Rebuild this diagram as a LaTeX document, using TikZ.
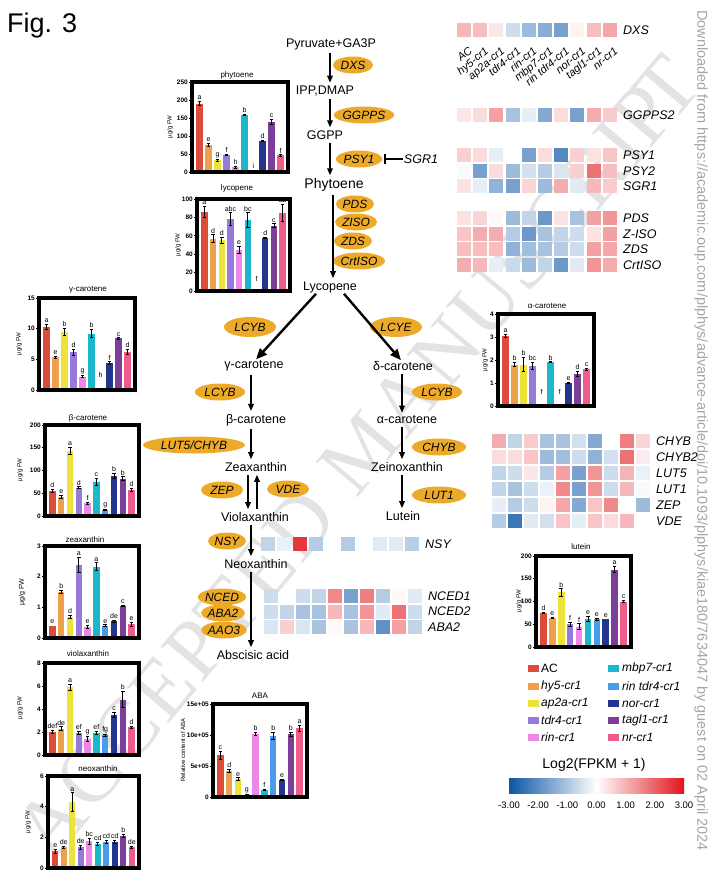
\documentclass[tikz,border=0pt]{standalone}
\usepackage{fontspec}
\setmainfont{Liberation Sans}
\newfontfamily\serifwm{Liberation Serif}
\usetikzlibrary{shapes.geometric,arrows.meta}
\definecolor{enzc}{RGB}{236,170,40}
\definecolor{hb}{RGB}{10,85,165}
\definecolor{hr}{RGB}{225,20,25}
\definecolor{bc1}{RGB}{221,76,58}
\definecolor{bc2}{RGB}{239,160,75}
\definecolor{bc3}{RGB}{236,226,58}
\definecolor{bc4}{RGB}{152,120,216}
\definecolor{bc5}{RGB}{238,136,230}
\definecolor{bc6}{RGB}{26,184,202}
\definecolor{bc7}{RGB}{74,155,234}
\definecolor{bc8}{RGB}{35,54,143}
\definecolor{bc9}{RGB}{123,63,152}
\definecolor{bc10}{RGB}{238,92,138}

% #1 xL #2 xR #3 yTop #4 yBottom #5 ymax #6 list value/error/letter
\newcommand{\barchart}[6]{%
  \pgfmathsetmacro{\bslot}{(#2-#1-6)/10}%
  \foreach \bv/\be/\bl [count=\i] in {#6}{%
    \pgfmathsetmacro{\cx}{#1+3+(\i-0.5)*\bslot}%
    \pgfmathsetmacro{\yt}{#4-(\bv)/(#5)*(#4-#3)}%
    \pgfmathsetmacro{\eh}{max(\be,0)/(#5)*(#4-#3)}%
    \pgfmathsetmacro{\hw}{0.37*\bslot}%
    \ifdim \be pt<0pt
      \node[lett] at (\cx,\yt) {\bl};
    \else
      \fill[bc\i] (\cx-\hw,#4) rectangle (\cx+\hw,\yt);
      \ifdim \be pt>0pt
        \draw[errb] (\cx,\yt-\eh) -- (\cx,\yt+\eh)
          (\cx-0.55*\hw,\yt-\eh) -- (\cx+0.55*\hw,\yt-\eh)
          (\cx-0.55*\hw,\yt+\eh) -- (\cx+0.55*\hw,\yt+\eh);
      \fi
      \node[lett] at (\cx,\yt-\eh-1.5) {\bl};
    \fi
  }%
  \draw[chartframe] (#1,#3) rectangle (#2,#4);
}
% #1 xL #2 yTop #3 yBottom #4 ymax #5 list value/label
\newcommand{\yticks}[5]{%
  \foreach \tv/\tl in {#5}{%
    \pgfmathsetmacro{\ty}{#3-(\tv)/(#4)*(#3-#2)}%
    \draw[line width=0.7] (#1-1,\ty) -- (#1-3.5,\ty);
    \node[ticklab] at (#1-4,\ty) {\tl};
  }%
}
% #1 x0 #2 yTop #3 pitch #4 values #5 label #6 name
\newcommand{\hrow}[6]{%
  \foreach \hv [count=\i] in {#4}{%
    \pgfmathtruncatemacro{\ha}{abs(\hv)}%
    \ifnum\hv<0 \def\hc{hb}\else\def\hc{hr}\fi
    \fill[fill=\hc!\ha!white] (#1+\i*#3-#3,#2) rectangle ++(14,14);
  }%
  \node[hlab] (#6) at (#1+10*#3+4,#2+7) {#5};
}

\begin{document}
\begin{tikzpicture}[x=1pt,y=-1pt,
  met/.style={inner sep=1, font=\fontsize{12.5}{14}\selectfont},
  enz/.style={ellipse, fill=enzc, inner sep=0, minimum height=17, font=\fontsize{12}{14}\selectfont\itshape},
  arr/.style={line width=1.6, -{Triangle[length=7,width=5.5]}, shorten <=2, shorten >=2},
  bigarr/.style={line width=2.4, -{Triangle[length=11,width=9]}},
  lett/.style={anchor=south, inner sep=0, font=\fontsize{7}{8}\selectfont},
  ticklab/.style={anchor=east, inner sep=0, font=\fontsize{6.5}{7}\selectfont\bfseries},
  ctitle/.style={inner sep=0, font=\fontsize{8}{9}\selectfont},
  ylab/.style={rotate=90, inner sep=0, font=\fontsize{6}{7}\selectfont},
  errb/.style={line width=0.8},
  chartframe/.style={line width=3.2},
  hlab/.style={anchor=west, inner sep=0, font=\fontsize{12.5}{14}\selectfont\itshape},
  clab/.style={anchor=base east, rotate=40, inner sep=0, font=\fontsize{11}{12}\selectfont\itshape},
  legtext/.style={anchor=west, inner sep=0, font=\fontsize{12}{14}\selectfont},
  wmk/.style={rotate=50, inner sep=0, text=black!11, font=\fontsize{84}{84}\selectfont\serifwm},
]
\useasboundingbox (0,0) rectangle (711,881);
\fill[white] (0,0) rectangle (711,881);

% watermark, one letter at a time along the diagonal
\foreach \ch/\xx/\yy [count=\i] in {A/50.3/822.1,C/89.4/775.5,C/126.8/730.9,E/162.8/688,P/195.6/648.9,T/228.4/609.8,E/262.8/568.8,D/300.2/524.2,M/359.6/453.5,A/404.9/399.4,N/445.5/351.1,U/486.1/302.7,S/522/259.9,C/556.4/218.9,R/593.9/174.2,I/620/143,P/643/115,T/667/88}
  \node[wmk] (wm\i) at (\xx,\yy) {\ch};
\node[rotate=-90, anchor=west, inner sep=0, text=black!35, font=\fontsize{14.5}{16}\selectfont] (dl) at (701,10)
  {Downloaded from https://academic.oup.com/plphys/advance-article/doi/10.1093/plphys/kiae180/7634047 by guest on 02 April 2024};

\node[anchor=west, inner sep=0, font=\fontsize{27}{30}\selectfont] (fig) at (7,26) {Fig. 3};

% ---------------- pathway ----------------
\node[met] (pyr) at (331,44) {Pyruvate+GA3P};
\node[met] (ipp) at (325,91) {IPP,DMAP};
\node[met] (ggpp) at (325,135) {GGPP};
\node[met, font=\fontsize{14}{16}\selectfont] (phy) at (334,185) {Phytoene};
\node[met] (lyc) at (330,287) {Lycopene};
\node[met] (gcar) at (254,366) {γ-carotene};
\node[met] (dcar) at (403,366) {δ-carotene};
\node[met] (bcar) at (256,420) {β-carotene};
\node[met] (acar) at (407,420) {α-carotene};
\node[met] (zea) at (256,467) {Zeaxanthin};
\node[met] (zein) at (407,467) {Zeinoxanthin};
\node[met] (vio) at (255,517) {Violaxanthin};
\node[met] (lut) at (403,516) {Lutein};
\node[met] (neo) at (256,564) {Neoxanthin};
\node[met] (absc) at (253,655) {Abscisic acid};

\node[enz, minimum width=40] (dxs) at (353,65) {DXS};
\node[enz, minimum width=54] (ggpps) at (364,115) {GGPPS};
\node[enz, minimum width=46] (psy1) at (359,159) {PSY1};
\node[met, font=\fontsize{12.5}{14}\selectfont\itshape] (sgr1) at (421,159) {SGR1};
\node[enz, minimum width=38] (pds) at (355,204) {PDS};
\node[enz, minimum width=42] (ziso) at (356,222) {ZISO};
\node[enz, minimum width=38] (zds) at (353,241) {ZDS};
\node[enz, minimum width=48] (crtiso) at (359,261) {CrtISO};
\node[enz, minimum width=52, minimum height=20] (lcyb1) at (250,327) {LCYB};
\node[enz, minimum width=52, minimum height=20] (lcye) at (396,327) {LCYE};
\node[enz, minimum width=50] (lcyb2) at (220,392) {LCYB};
\node[enz, minimum width=50] (lcyb3) at (437,392) {LCYB};
\node[enz, minimum width=102] (lut5) at (194,445) {LUT5/CHYB};
\node[enz, minimum width=54] (chyb) at (439,447) {CHYB};
\node[enz, minimum width=42] (zep) at (222,490) {ZEP};
\node[enz, minimum width=42] (vde) at (288,489) {VDE};
\node[enz, minimum width=54] (lut1) at (439,495) {LUT1};
\node[enz, minimum width=38] (nsy) at (227,541) {NSY};
\node[enz, minimum width=46] (nced) at (222,597) {NCED};
\node[enz, minimum width=44] (aba2e) at (223,613) {ABA2};
\node[enz, minimum width=44] (aao3) at (224,630) {AAO3};

\coordinate (cM) at (330,0);
\coordinate (cM2) at (333,0);
\coordinate (cL) at (251,0);
\coordinate (cR) at (402,0);
\draw[arr] (pyr.south -| cM) -- (ipp.north -| cM);
\draw[arr] (ipp.south -| cM) -- (ggpp.north -| cM);
\draw[arr] (ggpp.south -| cM) -- (phy.north -| cM);
\draw[arr] (phy.south -| cM2) -- (lyc.north -| cM2);
\draw[line width=1.5, -{Bar[width=10,line width=1.5]}] (sgr1.west) -- ([xshift=2]psy1.east);
\draw[bigarr] ([xshift=-14]lyc.south) -- ([xshift=2]gcar.north);
\draw[bigarr] ([xshift=14]lyc.south) -- ([xshift=-2]dcar.north);
\draw[arr] (gcar.south -| cL) -- (bcar.north -| cL);
\draw[arr] (bcar.south -| cL) -- (zea.north -| cL);
\draw[arr] ([xshift=-3]zea.south -| cL) -- ([xshift=-3]vio.north -| cL);
\draw[arr] ([xshift=6]vio.north -| cL) -- ([xshift=6]zea.south -| cL);
\draw[arr] (vio.south -| cL) -- (neo.north -| cL);
\draw[arr] (neo.south -| cL) -- (absc.north -| cL);
\draw[arr] (dcar.south -| cR) -- (acar.north -| cR);
\draw[arr] (acar.south -| cR) -- (zein.north -| cR);
\draw[arr] (zein.south -| cR) -- (lut.north -| cR);

% ---------------- heatmaps ----------------
\hrow{457}{23}{16.2}{30,28,10,-20,-40,-48,-55,5,28,38}{DXS}{hDXS}
\foreach \nm [count=\i] in {AC,hy5-cr1,ap2a-cr1,tdr4-cr1,rin-cr1,mbp7-cr1,rin tdr4-cr1,nor-cr1,tagl1-cr1,nr-cr1}
  \node[clab] (cl\i) at (464+\i*16.2-16.2+9,52) {\nm};
\hrow{457}{108}{16.2}{10,15,40,-35,-10,-50,15,-55,35,22}{GGPPS2}{hGG}
\hrow{457}{148}{16.2}{20,15,-10,0,-55,15,-70,20,12,25}{PSY1}{hPSY1}
\hrow{457}{163.7}{16.2}{-3,-55,15,-40,-18,-30,-15,20,60,28}{PSY2}{hPSY2}
\hrow{457}{179.4}{16.2}{12,-10,-45,-55,18,-40,35,-12,30,22}{SGR1}{hSGR1}
\hrow{457}{211}{16.2}{12,18,3,-40,-25,-60,12,-35,40,45}{PDS}{hPDS}
\hrow{457}{226.7}{16.2}{25,35,35,-30,-60,-35,-25,-20,12,40}{Z-ISO}{hZISO}
\hrow{457}{242.4}{16.2}{28,28,28,-45,-38,-35,-30,-20,40,38}{ZDS}{hZDS}
\hrow{457}{258.1}{16.2}{35,30,-10,-22,-40,-25,-60,-12,45,35}{CrtISO}{hCRT}
\hrow{492}{434}{16}{35,-25,22,-35,-35,-18,-50,0,55,18}{CHYB}{hCHYB}
\hrow{492}{450}{16}{15,15,25,-40,-38,-20,-45,-18,60,8}{CHYB2}{hCHYB2}
\hrow{492}{466}{16}{-25,-20,10,-30,40,-55,45,-20,32,-8}{LUT5}{hLUT5}
\hrow{492}{482}{16}{-25,-35,-20,-8,50,-55,45,-20,30,-3}{LUT1}{hLUT1}
\hrow{492}{498}{16}{-10,-30,-20,5,38,-50,25,50,0,-40}{ZEP}{hZEP}
\hrow{492}{514}{16}{-30,-80,-12,-18,25,-10,25,15,30,0}{VDE}{hVDE}
\hrow{261}{537}{16}{-25,-8,85,-30,0,-30,0,-12,-12,-28}{NSY}{hNSY}
\hrow{264}{589}{16}{-20,0,-20,-25,50,-55,55,-30,3,-12}{NCED1}{hN1}
\hrow{264}{604.5}{16}{-20,-25,-35,-35,30,-35,45,-12,60,-20}{NCED2}{hN2}
\hrow{264}{620}{16}{-15,20,-15,-35,2,-35,30,-65,40,-25}{ABA2}{hABA2}

% ---------------- bar charts ----------------
% phytoene
\node[ctitle] (tphy) at (237,75) {phytoene};
\node[ylab] (yphy) at (170,127) {µg/g FW};
\yticks{192}{82}{172}{250}{0/0,50/50,100/100,150/150,200/200,250/250}
\barchart{192}{288}{82}{172}{250}{190/6/a,75/4/e,32/3/g,47/2/f,13/2/h,158/2/b,8/-1/i,86/1/d,140/7/c,46/2/f}
% lycopene
\node[ctitle] (tlyc) at (237,188) {lycopene};
\node[ylab] (ylyc) at (178,245) {µg/g FW};
\yticks{197}{199}{291}{100}{0/0,20/20,40/40,60/60,80/80,100/100}
\barchart{197}{290}{199}{291}{100}{86/6/a,57/4/d,55/3/d,78/7/abc,45/4/e,77/8/bc,10/-1/f,58/0.5/d,71/2/c,85/9/ab}
% gamma-carotene
\node[ctitle] (tgam) at (88,290) {γ-carotene};
\node[ylab] (ygam) at (19,344) {µg/g FW};
\yticks{39}{298}{390}{15}{0/0,5/5,10/10,15/15}
\barchart{39}{135}{298}{390}{15}{10.3/0.4/a,5.3/0.15/e,9.5/0.6/b,6.2/0.5/d,2.2/0.2/g,9.2/0.7/b,2/-1/h,4.4/0.2/f,8.4/0.1/c,6.2/0.4/d}
% beta-carotene
\node[ctitle] (tbet) at (88,418) {β-carotene};
\node[ylab] (ybet) at (20,470) {µg/g FW};
\yticks{45}{425}{516}{200}{0/0,50/50,100/100,150/150,200/200}
\barchart{45}{139}{425}{516}{200}{55/3/d,42/3/e,143/8/a,62/2/d,28/2/f,75/7/c,14/1/g,88/6/b,82/4/b,57/4/d}
% zeaxanthin
\node[ctitle] (tzea) at (85,540) {zeaxanthin};
\node[ylab, font=\fontsize{7}{8}\selectfont] (yzea) at (22,592) {µg/g FW};
\yticks{45}{546}{638}{3}{0/0,1/1,2/2,3/3}
\barchart{45}{139}{546}{638}{3}{0.4/0/e,1.5/0.05/b,0.7/0.05/d,2.38/0.25/a,0.36/0.06/e,2.33/0.12/a,0.4/0.03/e,0.55/0.03/de,1.05/0.01/c,0.45/0.06/e}
% violaxanthin
\node[ctitle] (tvio) at (88,654) {violaxanthin};
\node[ylab] (yvio) at (20,708) {µg/g FW};
\yticks{45}{663}{755}{8}{0/0,2/2,4/4,6/6,8/8}
\barchart{45}{139}{663}{755}{8}{2.0/0.15/def,2.3/0.15/de,5.9/0.25/a,1.9/0.15/ef,1.4/0.2/g,1.9/0.15/ef,1.7/0.1/fg,3.5/0.2/c,4.8/0.7/b,2.4/0.1/d}
% neoxanthin
\node[ctitle] (tneo) at (98,769) {neoxanthin};
\node[ylab] (yneo) at (28,822) {µg/g FW};
\yticks{48}{776}{868}{6}{0/0,2/2,4/4,6/6}
\barchart{48}{139}{776}{868}{6}{1.1/0.12/e,1.35/0.06/de,4.3/0.6/a,1.35/0.15/de,1.75/0.2/bc,1.55/0.1/cd,1.7/0.08/cd,1.7/0.1/cd,2.1/0.12/b,1.35/0.05/de}
% ABA
\node[ctitle] (taba) at (260,696) {ABA};
\node[ylab] (yaba) at (183,750) {Relative content of ABA};
\yticks{213}{704}{797}{15}{0/0,5/5e+05,10/10e+05,15/15e+05}
\barchart{213}{307}{704}{797}{15}{6.7/0.7/c,4.2/0.3/d,2.9/0.2/e,0.4/0.05/g,10.2/0.3/b,1.1/0.1/f,9.9/0.6/b,2.8/0.1/e,10.1/0.3/b,11.1/0.5/a}
% alpha-carotene
\node[ctitle] (talp) at (547,306) {α-carotene};
\node[ylab] (yalp) at (485,360) {µg/g FW};
\yticks{498}{314}{406}{4}{0/0,1/1,2/2,3/3,4/4}
\barchart{498}{594}{314}{406}{4}{3.05/0.08/a,1.8/0.08/b,1.8/0.3/b,1.75/0.15/bc,0.5/-1/f,1.9/0.02/b,0.5/-1/f,1.0/0.03/e,1.4/0.1/d,1.6/0.04/c}
% lutein
\node[ctitle] (tlut) at (581,547) {lutein};
\node[ylab] (ylut) at (519,601) {µg/g FW};
\yticks{536}{556}{647}{200}{0/0,50/50,100/100,150/150,200/200}
\barchart{536}{631}{556}{647}{200}{75/2/d,64/1/e,120/8/b,50/5/f,45/6/f,62/6/e,61/2/e,61/0/e,170/7/a,100/2/c}

% ---------------- legend ----------------
\foreach \nm/\yy [count=\i] in {AC/668,\textit{hy5-cr1}/686,\textit{ap2a-cr1}/703.5,\textit{tdr4-cr1}/720.5,\textit{rin-cr1}/737.5}{
  \fill[bc\i] (528,\yy-3.5) rectangle ++(11,7);
  \node[legtext] (lg\i) at (541,\yy) {\nm};
}
\foreach \nm/\yy [count=\j] in {mbp7-cr1/668,rin tdr4-cr1/686,nor-cr1/703.5,tagl1-cr1/720.5,nr-cr1/737.5}{
  \pgfmathtruncatemacro{\k}{\j+5}
  \fill[bc\k] (608,\yy-3.5) rectangle ++(11,7);
  \node[legtext, font=\fontsize{12}{14}\selectfont\itshape] (lg\k) at (622,\yy) {\nm};
}

% ---------------- colour bar ----------------
\node[inner sep=0, font=\fontsize{14}{16}\selectfont] (cbt) at (594,765) {Log2(FPKM + 1)};
\shade[left color=hb, right color=white] (509,778) rectangle (596.5,793);
\shade[left color=white, right color=hr] (596.5,778) rectangle (684,793);
\foreach \tl [count=\i] in {-3.00,-2.00,-1.00,0.00,1.00,2.00,3.00}
  \node[inner sep=0, font=\fontsize{9.5}{11}\selectfont] (cb\i) at (509+\i*29.17-29.17,805) {\tl};

\end{tikzpicture}
\end{document}
